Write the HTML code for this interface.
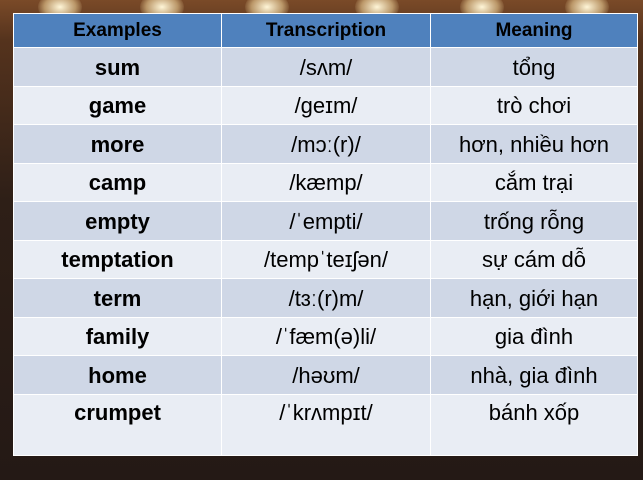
<!DOCTYPE html>
<html><head><meta charset="utf-8"><style>
body{margin:0;width:643px;height:480px;overflow:hidden;background:linear-gradient(#7a4a28 0,#55331d 40px,#2e1f17 200px,#241915 480px);font-family:"Liberation Sans","DejaVu Sans",sans-serif;position:relative}
.glow{position:absolute;top:-8px;width:44px;height:30px;border-radius:50%;background:radial-gradient(#fff6d8,rgba(255,230,170,0.5) 50%,rgba(0,0,0,0) 75%)}
table{position:absolute;left:13px;top:13px;width:624px;border-collapse:collapse;table-layout:fixed}
td,th{border:1.5px solid #fff;text-align:center;padding:0;color:#000;font-size:22px;box-sizing:border-box}
th{background:#4f81bd;height:34px;font-size:19px;font-weight:bold}
td{height:38.5px;padding-top:2px}
tr.o td{background:#cfd7e6}
tr.e td{background:#e9edf4}
td.b{font-weight:bold}
tr.last td{height:61px;vertical-align:top;padding-top:5px}
</style></head><body>
<div class="glow" style="left:38px"></div><div class="glow" style="left:140px"></div><div class="glow" style="left:245px"></div><div class="glow" style="left:355px"></div><div class="glow" style="left:460px"></div><div class="glow" style="left:565px"></div>
<table>
<colgroup><col style="width:208px"><col style="width:209px"><col style="width:207px"></colgroup>
<tr><th>Examples</th><th>Transcription</th><th>Meaning</th></tr>
<tr class="o"><td class="b">sum</td><td>/sʌm/</td><td>tổng</td></tr>
<tr class="e"><td class="b">game</td><td>/geɪm/</td><td>trò chơi</td></tr>
<tr class="o"><td class="b">more</td><td>/mɔː(r)/</td><td>hơn, nhiều hơn</td></tr>
<tr class="e"><td class="b">camp</td><td>/kæmp/</td><td>cắm trại</td></tr>
<tr class="o"><td class="b">empty</td><td>/ˈempti/</td><td>trống rỗng</td></tr>
<tr class="e"><td class="b">temptation</td><td>/tempˈteɪʃən/</td><td>sự cám dỗ</td></tr>
<tr class="o"><td class="b">term</td><td>/tɜː(r)m/</td><td>hạn, giới hạn</td></tr>
<tr class="e"><td class="b">family</td><td>/ˈfæm(ə)li/</td><td>gia đình</td></tr>
<tr class="o"><td class="b">home</td><td>/həʊm/</td><td>nhà, gia đình</td></tr>
<tr class="e last"><td class="b">crumpet</td><td>/ˈkrʌmpɪt/</td><td>bánh xốp</td></tr>
</table>
</body></html>
